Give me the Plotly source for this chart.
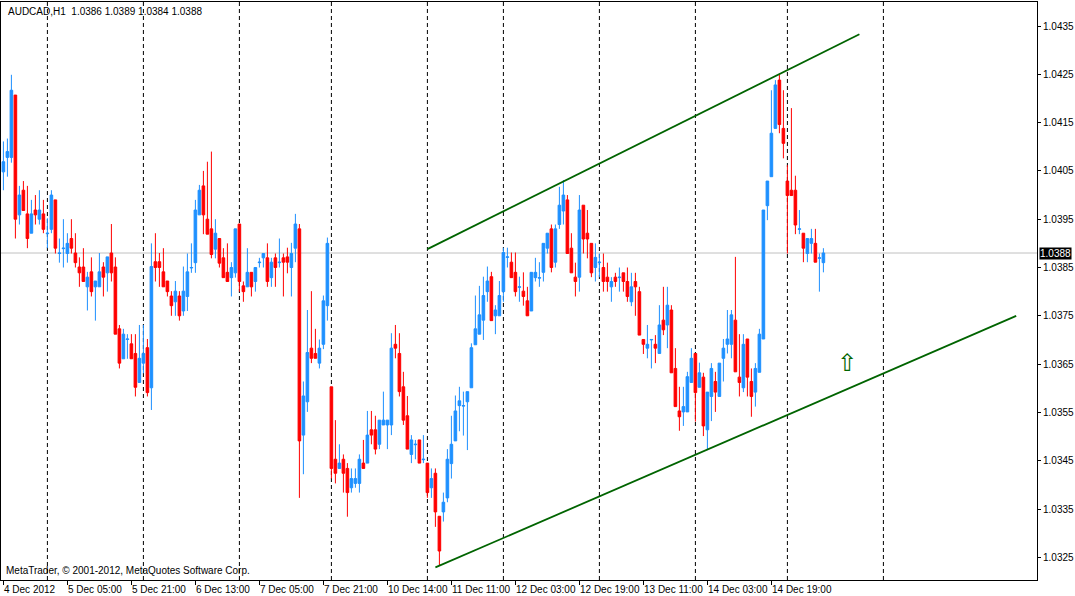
import plotly.graph_objects as go

# AUDCAD H1 bars (oldest first)
opens = [
    1.04048, 1.04078, 1.04078, 1.04207, 1.03959, 1.04010, 1.03961, 1.03921, 1.03969, 1.03950,
    1.03961, 1.03920, 1.03929, 1.03990, 1.03879, 1.03889, 1.03879, 1.03910, 1.03880, 1.03851,
    1.03851, 1.03810, 1.03841, 1.03810, 1.03810, 1.03851, 1.03839, 1.03880, 1.03851, 1.03723,
    1.03661, 1.03701, 1.03692, 1.03672, 1.03612, 1.03652, 1.03684, 1.03601, 1.03862, 1.03862,
    1.03841, 1.03822, 1.03791, 1.03779, 1.03791, 1.03760, 1.03790, 1.03849, 1.03860, 1.03959,
    1.04019, 1.03950, 1.03930, 1.03888, 1.03910, 1.03870, 1.03840, 1.03829, 1.03839, 1.03940,
    1.03812, 1.03810, 1.03840, 1.03821, 1.03860, 1.03870, 1.03870, 1.03829, 1.03870, 1.03860,
    1.03870, 1.03872, 1.03850, 1.03890, 1.03930, 1.03503, 1.03572, 1.03683, 1.03672, 1.03652,
    1.03691, 1.03771, 1.03603, 1.03453, 1.03434, 1.03453, 1.03434, 1.03394, 1.03403, 1.03403,
    1.03445, 1.03445, 1.03514, 1.03514, 1.03484, 1.03524, 1.03524, 1.03524, 1.03691, 1.03672,
    1.03603, 1.03543, 1.03463, 1.03483, 1.03493, 1.03452, 1.03445, 1.03394, 1.03424, 1.03335,
    1.03344, 1.03373, 1.03444, 1.03491, 1.03564, 1.03563, 1.03572, 1.03601, 1.03690, 1.03712,
    1.03741, 1.03800, 1.03831, 1.03750, 1.03750, 1.03800, 1.03871, 1.03861, 1.03840, 1.03809,
    1.03801, 1.03781, 1.03760, 1.03829, 1.03828, 1.03840, 1.03890, 1.03930, 1.03861, 1.03939,
    1.03967, 1.03990, 1.03890, 1.03830, 1.03830, 1.03979, 1.03921, 1.03900, 1.03850, 1.03860,
    1.03850, 1.03830, 1.03810, 1.03830, 1.03829, 1.03839, 1.03821, 1.03779, 1.03821, 1.03800,
    1.03701, 1.03683, 1.03700, 1.03691, 1.03672, 1.03741, 1.03731, 1.03762, 1.03641, 1.03553,
    1.03551, 1.03551, 1.03612, 1.03672, 1.03602, 1.03623, 1.03514, 1.03583, 1.03614, 1.03583,
    1.03662, 1.03691, 1.03691, 1.03741, 1.03623, 1.03601, 1.03702, 1.03614, 1.03592, 1.03633,
    1.03702, 1.03978, 1.04038, 1.04138, 1.04238, 1.04138, 1.04029, 1.04010, 1.04010, 1.03929,
    1.03921, 1.03879, 1.03900, 1.03900, 1.03869, 1.03860,
]
highs = [
    1.04111, 1.04117, 1.04249, 1.04207, 1.04019, 1.04029, 1.04019, 1.03990, 1.04000, 1.04010,
    1.03990, 1.03952, 1.04010, 1.03990, 1.03910, 1.03950, 1.03921, 1.03950, 1.03921, 1.03871,
    1.03890, 1.03841, 1.03871, 1.03822, 1.03880, 1.03861, 1.03872, 1.03940, 1.03871, 1.03731,
    1.03723, 1.03712, 1.03712, 1.03712, 1.03731, 1.03731, 1.03702, 1.03900, 1.03921, 1.03880,
    1.03890, 1.03822, 1.03801, 1.03822, 1.03801, 1.03852, 1.03879, 1.03900, 1.03990, 1.04021,
    1.04050, 1.04069, 1.04090, 1.03950, 1.03910, 1.03890, 1.03900, 1.03861, 1.03930, 1.03940,
    1.03821, 1.03890, 1.03840, 1.03850, 1.03870, 1.03879, 1.03900, 1.03870, 1.03879, 1.03910,
    1.03879, 1.03891, 1.03901, 1.03961, 1.03940, 1.03614, 1.03762, 1.03801, 1.03723, 1.03701,
    1.03792, 1.03912, 1.03603, 1.03534, 1.03484, 1.03463, 1.03445, 1.03434, 1.03434, 1.03463,
    1.03493, 1.03553, 1.03553, 1.03543, 1.03534, 1.03593, 1.03534, 1.03714, 1.03731, 1.03714,
    1.03634, 1.03584, 1.03503, 1.03493, 1.03493, 1.03503, 1.03445, 1.03434, 1.03434, 1.03335,
    1.03384, 1.03474, 1.03543, 1.03585, 1.03603, 1.03593, 1.03593, 1.03693, 1.03792, 1.03812,
    1.03831, 1.03852, 1.03841, 1.03772, 1.03822, 1.03891, 1.03891, 1.03881, 1.03881, 1.03831,
    1.03840, 1.03810, 1.03840, 1.03870, 1.03861, 1.03900, 1.03921, 1.03939, 1.03939, 1.04017,
    1.04031, 1.04000, 1.03921, 1.03860, 1.04000, 1.03979, 1.03969, 1.03900, 1.03900, 1.03879,
    1.03879, 1.03860, 1.03830, 1.03839, 1.03850, 1.03839, 1.03850, 1.03839, 1.03839, 1.03810,
    1.03701, 1.03731, 1.03701, 1.03710, 1.03772, 1.03810, 1.03810, 1.03772, 1.03683, 1.03603,
    1.03603, 1.03634, 1.03683, 1.03672, 1.03653, 1.03632, 1.03592, 1.03652, 1.03634, 1.03652,
    1.03702, 1.03762, 1.03762, 1.03872, 1.03712, 1.03712, 1.03702, 1.03641, 1.03652, 1.03723,
    1.03969, 1.04029, 1.04217, 1.04238, 1.04249, 1.04217, 1.04062, 1.04180, 1.04040, 1.03969,
    1.03921, 1.03910, 1.03930, 1.03930, 1.03879, 1.03890,
]
lows = [
    1.04010, 1.04038, 1.04067, 1.03910, 1.03939, 1.03968, 1.03890, 1.03921, 1.03939, 1.03939,
    1.03921, 1.03890, 1.03921, 1.03879, 1.03860, 1.03850, 1.03860, 1.03879, 1.03850, 1.03810,
    1.03821, 1.03761, 1.03790, 1.03740, 1.03810, 1.03790, 1.03800, 1.03821, 1.03712, 1.03641,
    1.03661, 1.03661, 1.03661, 1.03583, 1.03612, 1.03631, 1.03583, 1.03555, 1.03821, 1.03810,
    1.03810, 1.03790, 1.03750, 1.03750, 1.03740, 1.03750, 1.03760, 1.03839, 1.03839, 1.03959,
    1.03919, 1.03919, 1.03869, 1.03869, 1.03850, 1.03829, 1.03821, 1.03790, 1.03829, 1.03800,
    1.03779, 1.03810, 1.03790, 1.03800, 1.03850, 1.03850, 1.03810, 1.03810, 1.03810, 1.03850,
    1.03790, 1.03838, 1.03790, 1.03861, 1.03373, 1.03422, 1.03551, 1.03652, 1.03662, 1.03641,
    1.03681, 1.03740, 1.03413, 1.03403, 1.03434, 1.03384, 1.03334, 1.03384, 1.03394, 1.03384,
    1.03434, 1.03445, 1.03484, 1.03463, 1.03474, 1.03524, 1.03474, 1.03503, 1.03662, 1.03583,
    1.03524, 1.03474, 1.03445, 1.03453, 1.03445, 1.03445, 1.03373, 1.03373, 1.03313, 1.03234,
    1.03324, 1.03364, 1.03413, 1.03491, 1.03511, 1.03502, 1.03472, 1.03601, 1.03690, 1.03712,
    1.03700, 1.03779, 1.03740, 1.03712, 1.03750, 1.03779, 1.03850, 1.03829, 1.03790, 1.03779,
    1.03771, 1.03750, 1.03760, 1.03821, 1.03810, 1.03821, 1.03879, 1.03840, 1.03850, 1.03930,
    1.03939, 1.03879, 1.03839, 1.03790, 1.03800, 1.03879, 1.03869, 1.03830, 1.03821, 1.03830,
    1.03800, 1.03800, 1.03779, 1.03810, 1.03800, 1.03800, 1.03779, 1.03770, 1.03750, 1.03710,
    1.03671, 1.03662, 1.03641, 1.03652, 1.03672, 1.03710, 1.03683, 1.03632, 1.03562, 1.03512,
    1.03522, 1.03551, 1.03612, 1.03531, 1.03602, 1.03501, 1.03472, 1.03532, 1.03551, 1.03583,
    1.03614, 1.03672, 1.03662, 1.03634, 1.03583, 1.03592, 1.03583, 1.03541, 1.03562, 1.03633,
    1.03702, 1.03948, 1.04038, 1.04138, 1.04128, 1.04076, 1.03879, 1.03999, 1.03919, 1.03919,
    1.03861, 1.03861, 1.03879, 1.03861, 1.03800, 1.03840,
]
closes = [
    1.04069, 1.04090, 1.04217, 1.03950, 1.04000, 1.03968, 1.03910, 1.03961, 1.03959, 1.03969,
    1.03929, 1.03921, 1.04000, 1.03890, 1.03880, 1.03890, 1.03900, 1.03890, 1.03860, 1.03839,
    1.03821, 1.03830, 1.03800, 1.03822, 1.03841, 1.03830, 1.03872, 1.03839, 1.03712, 1.03652,
    1.03712, 1.03702, 1.03661, 1.03602, 1.03662, 1.03672, 1.03591, 1.03852, 1.03850, 1.03850,
    1.03810, 1.03800, 1.03771, 1.03801, 1.03750, 1.03801, 1.03841, 1.03850, 1.03969, 1.04010,
    1.03959, 1.03919, 1.03877, 1.03921, 1.03859, 1.03829, 1.03821, 1.03850, 1.03930, 1.03821,
    1.03800, 1.03840, 1.03810, 1.03850, 1.03861, 1.03879, 1.03821, 1.03861, 1.03850, 1.03861,
    1.03861, 1.03861, 1.03879, 1.03940, 1.03491, 1.03584, 1.03674, 1.03662, 1.03662, 1.03683,
    1.03781, 1.03900, 1.03434, 1.03424, 1.03445, 1.03424, 1.03384, 1.03413, 1.03413, 1.03453,
    1.03434, 1.03503, 1.03503, 1.03474, 1.03534, 1.03534, 1.03534, 1.03683, 1.03683, 1.03593,
    1.03534, 1.03474, 1.03493, 1.03484, 1.03445, 1.03453, 1.03384, 1.03413, 1.03344, 1.03263,
    1.03364, 1.03453, 1.03484, 1.03553, 1.03574, 1.03564, 1.03593, 1.03684, 1.03723, 1.03752,
    1.03792, 1.03822, 1.03740, 1.03762, 1.03792, 1.03881, 1.03872, 1.03829, 1.03800, 1.03810,
    1.03790, 1.03750, 1.03840, 1.03840, 1.03829, 1.03900, 1.03921, 1.03850, 1.03930, 1.03979,
    1.04000, 1.03879, 1.03839, 1.03821, 1.03969, 1.03909, 1.03909, 1.03839, 1.03871, 1.03861,
    1.03821, 1.03821, 1.03821, 1.03821, 1.03830, 1.03821, 1.03790, 1.03810, 1.03810, 1.03710,
    1.03691, 1.03691, 1.03701, 1.03683, 1.03731, 1.03721, 1.03772, 1.03632, 1.03562, 1.03541,
    1.03562, 1.03624, 1.03662, 1.03591, 1.03632, 1.03522, 1.03592, 1.03641, 1.03592, 1.03652,
    1.03683, 1.03702, 1.03752, 1.03634, 1.03612, 1.03691, 1.03623, 1.03583, 1.03641, 1.03712,
    1.03969, 1.04029, 1.04128, 1.04228, 1.04146, 1.04107, 1.03999, 1.03999, 1.03938, 1.03930,
    1.03890, 1.03910, 1.03910, 1.03861, 1.03870, 1.03880,
]

# time axis: bar index of each label and its text
tick_bars = [0, 16, 32, 48, 64, 80, 96, 112, 128, 144, 160, 176, 192]
tick_text = [
    "4 Dec 2012", "5 Dec 05:00", "5 Dec 21:00", "6 Dec 13:00", "7 Dec 05:00",
    "7 Dec 21:00", "10 Dec 14:00", "11 Dec 11:00", "12 Dec 03:00",
    "12 Dec 19:00", "13 Dec 11:00", "14 Dec 03:00", "14 Dec 19:00",
]
# period separators (bar index)
day_breaks = [11, 35, 59, 82, 106, 125, 149, 173, 196, 220]

# channel trend lines: (bar index, price) end points
upper_line = ([106, 214], [1.03888, 1.04333])
lower_line = ([108, 253.2], [1.03229, 1.03750])
arrow_point = (211, 1.03648)

bid = 1.0388
header = "AUDCAD,H1  1.0386 1.0389 1.0384 1.0388"
footer = "MetaTrader, \u00a9 2001-2012, MetaQuotes Software Corp."

FONT = "Liberation Sans"
GREEN = "#006400"

bars = list(range(len(opens)))

fig = go.Figure()
fig.add_trace(
    go.Candlestick(
        x=bars,
        open=opens,
        high=highs,
        low=lows,
        close=closes,
        increasing=dict(line=dict(color="#1E90FF", width=1), fillcolor="#1E90FF"),
        decreasing=dict(line=dict(color="#FF0000", width=1), fillcolor="#FF0000"),
        whiskerwidth=0,
        showlegend=False,
        hoverinfo="skip",
    )
)

# Trend lines
for xs, ys in (upper_line, lower_line):
    fig.add_trace(
        go.Scatter(
            x=xs, y=ys, mode="lines",
            line=dict(color=GREEN, width=1.8),
            showlegend=False, hoverinfo="skip",
        )
    )

# Up arrow object
fig.add_trace(
    go.Scatter(
        x=[arrow_point[0]], y=[arrow_point[1]], mode="text",
        text=["\u21e7"],
        textfont=dict(family="DejaVu Sans", size=24, color=GREEN),
        showlegend=False, hoverinfo="skip",
    )
)

# Day separators (dashed)
for b in day_breaks:
    fig.add_shape(
        type="line", xref="x", yref="paper",
        x0=b, x1=b, y0=0, y1=1,
        line=dict(color="black", width=1, dash="4px,3px"),
        layer="below",
    )

# Bid line
fig.add_shape(
    type="line", xref="paper", yref="y",
    x0=0, x1=1, y0=bid, y1=bid,
    line=dict(color="#C0C0C0", width=1),
    layer="below",
)

# Bid price tag on the price scale
fig.add_annotation(
    xref="paper", yref="y", x=1, y=bid,
    xanchor="left", yanchor="middle", xshift=2,
    text=f"{bid:.4f}", showarrow=False,
    bgcolor="black", borderpad=0,
    font=dict(family=FONT, size=10, color="white"),
)

# Time labels, drawn to the right of their tick like MT4
for b, t in zip(tick_bars, tick_text):
    fig.add_annotation(
        xref="x", yref="paper", x=b, y=0,
        xanchor="left", yanchor="top", yshift=-2, xshift=-1,
        text=t, showarrow=False,
        font=dict(family=FONT, size=10, color="black"),
    )

fig.add_annotation(
    xref="paper", yref="paper", x=0, y=1,
    xanchor="left", yanchor="top", xshift=5, yshift=-2,
    text=header, showarrow=False,
    font=dict(family=FONT, size=10, color="black"),
)
fig.add_annotation(
    xref="paper", yref="paper", x=0, y=0,
    xanchor="left", yanchor="bottom", xshift=3, yshift=2,
    text=footer, showarrow=False,
    font=dict(family=FONT, size=10, color="black"),
)

fig.update_layout(
    width=1075,
    height=596,
    margin=dict(l=1, r=38, t=2, b=16),
    paper_bgcolor="white",
    plot_bgcolor="white",
    boxgap=0.35,
    boxgroupgap=0,
    showlegend=False,
    xaxis=dict(
        range=[-0.6, 258.4],
        rangeslider=dict(visible=False),
        showgrid=False, zeroline=False,
        tickmode="array", tickvals=tick_bars,
        ticks="outside", ticklen=4, tickcolor="black",
        showticklabels=False,
        showline=True, linecolor="black", linewidth=1, mirror=True,
    ),
    yaxis=dict(
        side="right",
        range=[1.03203, 1.043997],
        showgrid=False, zeroline=False,
        tick0=1.0325, dtick=0.001, tickformat=".4f",
        ticks="outside", ticklen=3, tickcolor="black",
        tickfont=dict(family=FONT, size=10, color="black"),
        showline=True, linecolor="black", linewidth=1, mirror=True,
    ),
)

# the page's default body margin would push the chart off the window
fig.write_html(
    "out.html",
    config={"displayModeBar": False},
    post_script="document.body.style.margin='0';document.body.style.overflow='hidden';",
)
